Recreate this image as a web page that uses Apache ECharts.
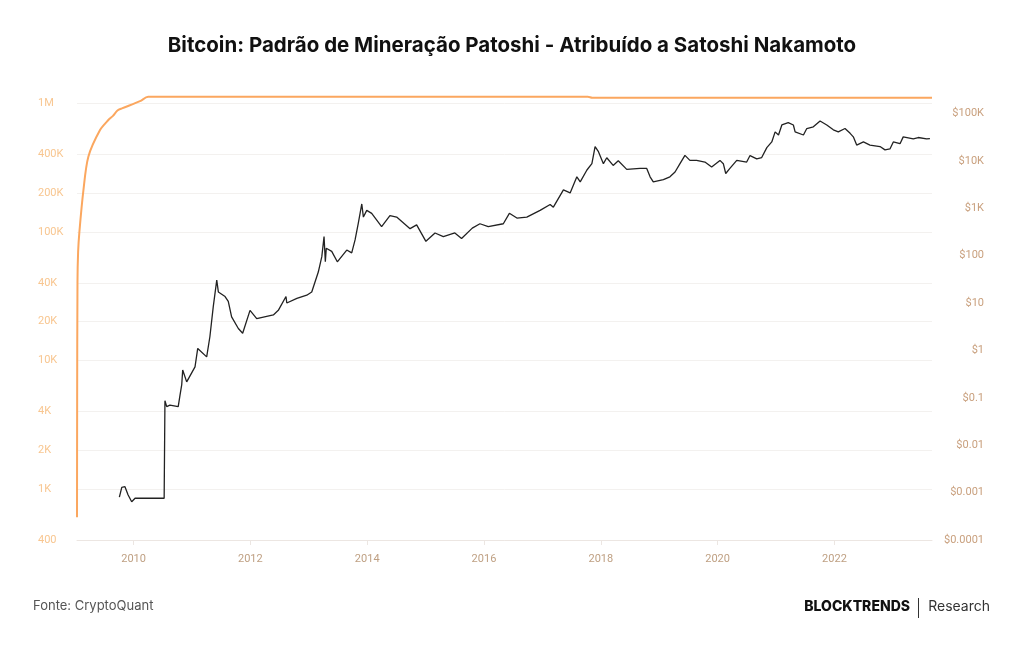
<!DOCTYPE html>
<html>
<head>
<meta charset="utf-8">
<title>Padrão Patoshi</title>
<script src="https://cdn.jsdelivr.net/npm/echarts@6/dist/echarts.min.js"></script>
<style>
  html, body { margin: 0; padding: 0; background: #fff; }
  #chart { width: 1024px; height: 645px; }
</style>
</head>
<body>
<div id="chart"></div>
<script>
// BTC minerados no padrão Patoshi (eixo esquerdo)
var patoshiDates = ['2009-01-12', '2009-01-13', '2009-01-15', '2009-01-19', '2009-01-27', '2009-02-21',
  '2009-03-24', '2009-06-05', '2009-07-27', '2009-08-25', '2009-09-22', '2009-10-20',
  '2010-02-10', '2010-04-02', '2017-10-12', '2017-11-08', '2023-09-03']
var patoshiBtc = [600, 5000, 40000, 70000, 100000, 210000,
  385000, 620000, 742000, 800000, 880000, 914000,
  1040000, 1125000, 1125000, 1105000, 1105000]

// preço do BTC em USD (eixo direito)
var priceDates = ['2009-10-04', '2009-10-19', '2009-11-08', '2009-11-27', '2009-12-20', '2010-01-10',
  '2010-07-11', '2010-07-16', '2010-07-27', '2010-08-16', '2010-10-07', '2010-10-18', '2010-10-29',
  '2010-11-04', '2010-11-29', '2011-01-20', '2011-02-06', '2011-04-03', '2011-04-23', '2011-05-14',
  '2011-06-05', '2011-06-15', '2011-07-27', '2011-08-16', '2011-09-06', '2011-10-18', '2011-11-14',
  '2011-12-30', '2012-02-10', '2012-05-24', '2012-06-24', '2012-08-11', '2012-08-16', '2012-10-18',
  '2012-12-19', '2013-01-19', '2013-03-01', '2013-03-23', '2013-04-06', '2013-04-14', '2013-04-20',
  '2013-05-24', '2013-06-28', '2013-08-26', '2013-09-26', '2013-10-17', '2013-11-06', '2013-11-28',
  '2013-12-08', '2013-12-29', '2014-01-29', '2014-04-01', '2014-05-23', '2014-07-04', '2014-09-26',
  '2014-11-06', '2015-01-03', '2015-03-01', '2015-04-22', '2015-07-03', '2015-08-14', '2015-10-20',
  '2015-12-07', '2016-01-28', '2016-05-01', '2016-06-08', '2016-07-25', '2016-09-25', '2016-12-17',
  '2017-02-18', '2017-03-10', '2017-05-12', '2017-06-23', '2017-08-04', '2017-08-25', '2017-10-06',
  '2017-11-06', '2017-11-26', '2017-12-17', '2018-01-17', '2018-02-07', '2018-03-19', '2018-04-20',
  '2018-06-12', '2018-09-03', '2018-10-15', '2018-11-05', '2018-11-25', '2019-01-27', '2019-03-09',
  '2019-04-10', '2019-05-11', '2019-06-11', '2019-07-12', '2019-08-23', '2019-10-14', '2019-11-25',
  '2020-01-16', '2020-02-06', '2020-02-21', '2020-03-18', '2020-04-30', '2020-07-01', '2020-07-22',
  '2020-09-02', '2020-10-03', '2020-11-04', '2020-12-05', '2020-12-26', '2021-01-16', '2021-02-06',
  '2021-03-18', '2021-04-19', '2021-04-30', '2021-06-21', '2021-07-12', '2021-08-22', '2021-10-03',
  '2021-11-14', '2021-12-25', '2022-01-25', '2022-03-08', '2022-04-09', '2022-04-29', '2022-05-20',
  '2022-07-01', '2022-08-11', '2022-10-13', '2022-11-13', '2022-12-14', '2023-01-04', '2023-02-15',
  '2023-03-07', '2023-05-09', '2023-06-09', '2023-07-31', '2023-08-21']
var priceUsd = [0.0008, 0.00129, 0.00133, 0.0009, 0.00064, 0.00076,
  0.00076, 0.087, 0.065, 0.07, 0.065, 0.113, 0.19,
  0.386, 0.217, 0.45, 1.1, 0.73, 1.94, 8.3,
  30.5, 17.1, 13.7, 10.8, 5.1, 2.9, 2.3,
  7.0, 4.7, 5.6, 7.0, 13.7, 10.0, 12.5,
  14.6, 17.1, 45, 95, 251, 74, 143,
  123, 74, 131, 114, 214, 479, 1227,
  650, 900, 780, 409, 700, 650, 370,
  444, 200, 300, 251, 300, 230, 380,
  470, 409, 470, 780, 620, 650, 900,
  1200, 1050, 2430, 2100, 4600, 3600, 6400,
  8700, 20000, 15600, 8700, 11600, 8000, 10000,
  6600, 6900, 6900, 4600, 3600, 4000, 4600,
  5800, 8700, 13000, 10200, 10200, 9400, 7400,
  10200, 8700, 5400, 6900, 10200, 9400, 12900,
  11000, 11700, 19000, 25000, 40800, 35000, 57000,
  64000, 57000, 40800, 35000, 48000, 52000, 69000,
  57000, 45000, 40800, 48000, 38000, 32000, 21500,
  25000, 21500, 20000, 17000, 17800, 25000, 23000,
  32000, 29000, 31000, 29000, 29500]

// marcas dos eixos
var leftTicks = [400, 1000, 2000, 4000, 10000, 20000, 40000, 100000, 200000, 400000, 1000000]
var leftTickLabels = ['400', '1K', '2K', '4K', '10K', '20K', '40K', '100K', '200K', '400K', '1M']
var rightTicks = [0.0001, 0.001, 0.01, 0.1, 1, 10, 100, 1000, 10000, 100000]
var rightTickLabels = ['$0.0001', '$0.001', '$0.01', '$0.1', '$1', '$10', '$100', '$1K', '$10K', '$100K']
var yearTicks = ['2010', '2012', '2014', '2016', '2018', '2020', '2022']

function ts (d) {
  return Date.parse(d + 'T00:00:00Z')
}

function pickLabel (ticks, labels, v) {
  // procura a marca mais próxima em escala log
  var best = 0
  for (var i = 1; i < ticks.length; i++) {
    if (Math.abs(Math.log10(ticks[i] / v)) < Math.abs(Math.log10(ticks[best] / v))) best = i
  }
  return labels[best]
}

var yearValues = yearTicks.map(function (y) { return ts(y + '-01-01') })

var myChart = echarts.init(document.getElementById('chart'))

var options = {
  animation: false,
  backgroundColor: '#fff',
  title: {
    text: 'Bitcoin: Padrão de Mineração Patoshi - Atribuído a Satoshi Nakamoto',
    left: 'center',
    top: 30,
    textStyle: {
      fontFamily: 'Inter',
      fontWeight: 700,
      fontSize: 20.5,
      color: '#111'
    }
  },
  grid: {
    left: 77,
    right: 92,
    top: 90,
    bottom: 105
  },
  xAxis: {
    type: 'value',
    min: ts('2009-01-12'),
    max: ts('2023-09-03'),
    axisLine: { lineStyle: { color: '#ece6e2' } },
    axisTick: {
      show: true,
      length: 5,
      customValues: yearValues,
      lineStyle: { color: '#ece6e2' }
    },
    axisLabel: {
      customValues: yearValues,
      formatter: function (v) {
        var i = yearValues.indexOf(v)
        return i >= 0 ? yearTicks[i] : String(new Date(v).getUTCFullYear())
      },
      margin: 14,
      color: '#bfa083',
      fontFamily: 'Roboto',
      fontSize: 11
    },
    splitLine: { show: false }
  },
  yAxis: [
    {
      type: 'log',
      min: 400,
      max: 1271000,
      position: 'left',
      axisLine: { show: false },
      axisTick: { show: false, customValues: leftTicks },
      axisLabel: {
        customValues: leftTicks,
        formatter: function (v) { return pickLabel(leftTicks, leftTickLabels, v) },
        align: 'left',
        margin: 39,
        color: '#f8c690',
        fontFamily: 'Roboto',
        fontSize: 11
      },
      splitLine: { show: true, lineStyle: { color: '#f3f1ef' } }
    },
    {
      type: 'log',
      min: 0.0001,
      max: 311700,
      position: 'right',
      axisLine: { show: false },
      axisTick: { show: false, customValues: rightTicks },
      axisLabel: {
        customValues: rightTicks,
        formatter: function (v) { return pickLabel(rightTicks, rightTickLabels, v) },
        align: 'right',
        margin: 52,
        color: '#c9a07e',
        fontFamily: 'Roboto',
        fontSize: 11
      },
      splitLine: { show: false }
    }
  ],
  series: [
    {
      name: 'Patoshi',
      type: 'line',
      yAxisIndex: 0,
      showSymbol: false,
      smooth: 0.3,
      lineStyle: { color: '#fba75f', width: 2 },
      data: patoshiDates.map(function (d, i) { return [ts(d), patoshiBtc[i]] })
    },
    {
      name: 'Preço',
      type: 'line',
      yAxisIndex: 1,
      showSymbol: false,
      lineStyle: { color: '#222', width: 1.3 },
      data: priceDates.map(function (d, i) { return [ts(d), priceUsd[i]] })
    }
  ],
  graphic: [
    {
      type: 'text',
      left: 33,
      top: 600,
      style: { text: 'Fonte: CryptoQuant', fill: '#555', font: '13px Inter' }
    },
    {
      type: 'text',
      right: 114,
      top: 600,
      style: { text: 'BLOCKTRENDS', fill: '#111', font: '800 14px Inter' }
    },
    {
      type: 'rect',
      left: 918,
      top: 598,
      shape: { width: 1, height: 20 },
      style: { fill: '#333' }
    },
    {
      type: 'text',
      right: 34,
      top: 600,
      style: { text: 'Research', fill: '#333', font: '14px Inter' }
    }
  ]
}

myChart.setOption(options)
</script>
</body>
</html>
